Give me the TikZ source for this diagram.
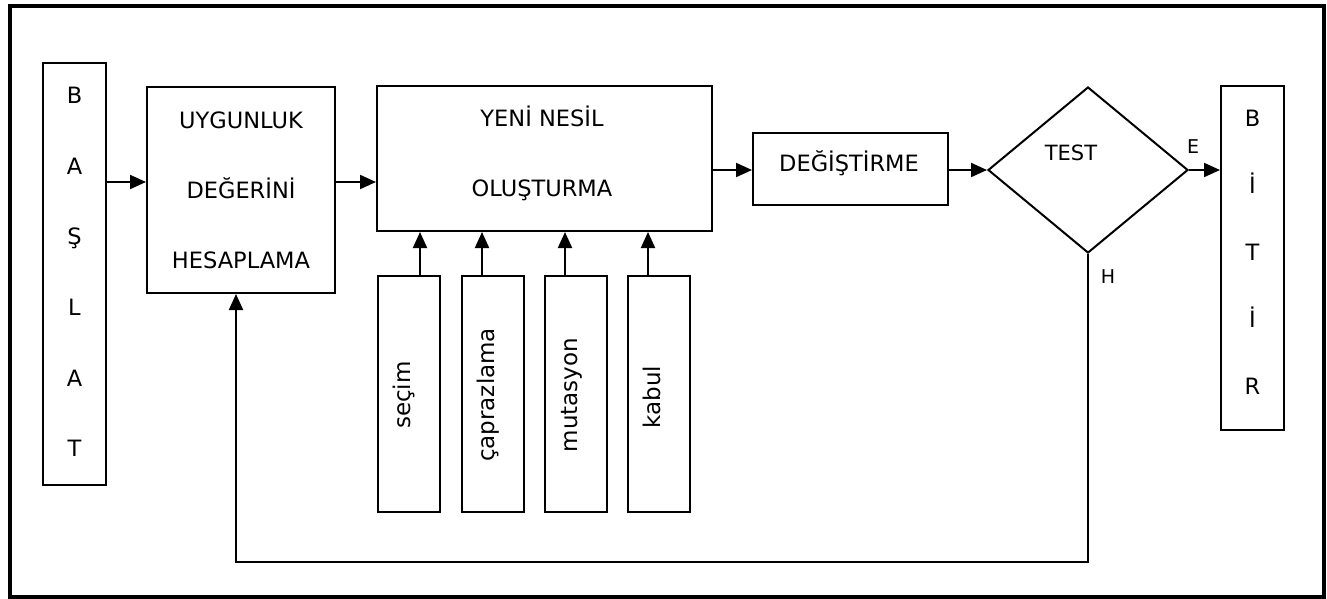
\documentclass[tikz,border=0pt]{standalone}
\usepackage{fontspec}
\setmainfont{DejaVu Sans}
\usetikzlibrary{shapes.geometric,arrows.meta}
\tikzset{
  box/.style={draw, line width=2pt, rectangle, inner sep=0pt},
  txt/.style={inner sep=0pt, font=\fontsize{22.5}{26}\selectfont, align=center},
  vtxt/.style={inner sep=0pt, rotate=90, font=\fontsize{23}{27}\selectfont},
  small/.style={inner sep=0pt, font=\fontsize{19}{22}\selectfont},
  arr/.style={line width=2pt, -{Triangle[length=16pt,width=14pt]}},
  ln/.style={line width=2pt}
}
\begin{document}
\begin{tikzpicture}[x=1pt,y=-1pt]
\useasboundingbox (0,0) rectangle (1327,599);
\draw[line width=3.5pt] (10,6) rectangle (1324,597);

% main boxes
\node[box, minimum width=63pt, minimum height=422pt] (baslat) at (74.5,274) {};
\node[txt, font=\fontsize{22.5}{70.6}\selectfont] (baslatT) at (74.5,272) {B\\A\\Ş\\L\\A\\T};

\node[box, minimum width=188pt, minimum height=206pt] (uygun) at (241,190) {};
\node[txt, font=\fontsize{22.5}{70}\selectfont] (uygunT) at (241,190) {UYGUNLUK\\DEĞERİNİ\\HESAPLAMA};

\node[box, minimum width=335pt, minimum height=145pt] (yeni) at (544.5,158.5) {};
\node[txt, font=\fontsize{22.5}{70}\selectfont] (yeniT) at (542,153) {YENİ NESİL\\OLUŞTURMA};

\node[box, minimum width=195pt, minimum height=72pt] (deg) at (850.5,169) {};
\node[txt] (degT) at (849,163) {DEĞİŞTİRME};

\node[draw, line width=2pt, diamond, inner sep=0pt, minimum width=200pt, minimum height=166pt] (test) at (1088,170) {};
\node[txt, font=\fontsize{21}{25}\selectfont] (testT) at (1071,153) {TEST};

\node[box, minimum width=63pt, minimum height=344pt] (bitir) at (1252.5,258) {};
\node[txt, font=\fontsize{22.5}{67}\selectfont] (bitirT) at (1252.5,252) {B\\İ\\T\\İ\\R};

% operator boxes
\node[box, minimum width=62pt, minimum height=236pt] (secim) at (409,394) {};
\node[box, minimum width=62pt, minimum height=236pt] (capraz) at (492.5,394) {};
\node[box, minimum width=62pt, minimum height=236pt] (mutas) at (576,394) {};
\node[box, minimum width=62pt, minimum height=236pt] (kabul) at (659,394) {};
\node[vtxt] (secimT) at (404,395) {seçim};
\node[vtxt] (caprazT) at (488,395) {çaprazlama};
\node[vtxt] (mutasT) at (572,395) {mutasyon};
\node[vtxt] (kabulT) at (652,397) {kabul};

% labels
\node[small] (E) at (1193,147) {E};
\node[small] (H) at (1108,277) {H};

% connectors
\draw[arr] (baslat.east |- 0,182) -- (uygun.west |- 0,182);
\draw[arr] (uygun.east |- 0,182) -- (yeni.west |- 0,182);
\draw[arr] (yeni.east |- 0,170) -- (deg.west |- 0,170);
\draw[arr] (deg.east |- test.west) -- (test.west);
\draw[arr] (test.east) -- (bitir.west |- test.east);

\draw[arr] (secim.north -| 420,0) -- (yeni.south -| 420,0);
\draw[arr] (capraz.north -| 482,0) -- (yeni.south -| 482,0);
\draw[arr] (mutas.north -| 565,0) -- (yeni.south -| 565,0);
\draw[arr] (kabul.north -| 648,0) -- (yeni.south -| 648,0);

\coordinate (fbR) at (1088,562);
\coordinate (fbL) at (236,562);
\draw[arr] (test.south) -- (fbR) -- (fbL) -- (uygun.south -| fbL);
\end{tikzpicture}
\end{document}
